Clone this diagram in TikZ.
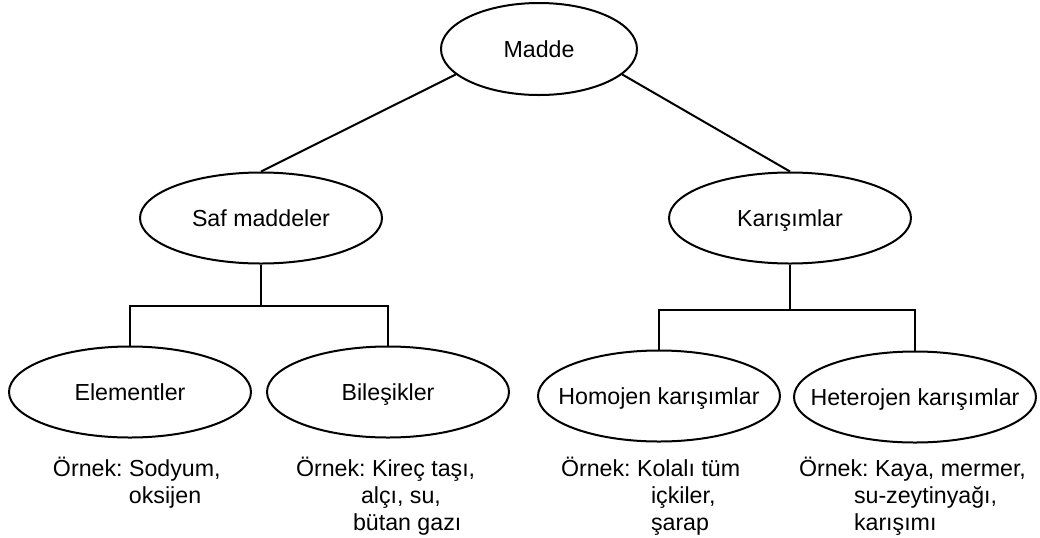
\documentclass[tikz,border=0pt]{standalone}
\usepackage{fontspec}
\setmainfont{Liberation Sans}
\usetikzlibrary{shapes.geometric}
\frenchspacing

\begin{document}
\begin{tikzpicture}[x=0.5pt, y=-0.5pt, line width=1pt,
  font=\fontsize{11.6}{13.5}\selectfont,
  oval/.style={draw, ellipse, inner ysep=0pt, inner xsep=-10pt,
    text height=10.3pt, text depth=2pt,
    minimum width=121pt, minimum height=45.5pt},
  note/.style={anchor=base west, align=left, inner sep=0pt}]
  \useasboundingbox (0,0) rectangle (1040,537);
  \node[oval, minimum width=98pt, minimum height=46pt] (madde) at (539,49) {Madde};
  \node[oval] (saf) at (261,218) {Saf maddeler};
  \node[oval] (karisim) at (790,218) {Karışımlar};
  \node[oval] (element) at (130,392) {Elementler};
  \node[oval] (bilesik) at (388,392) {Bileşikler};
  \node[oval] (homojen) at (659,396) {Homojen karışımlar};
  \node[oval] (heterojen) at (915,397) {Heterojen karışımlar};
  \draw (madde.197) -- (saf.north);
  \draw (madde.-17) -- (karisim.north);
  \draw (saf.south) -- ++(0,41) coordinate (safj);
  \draw (safj) -| (element.north);
  \draw (safj) -| (bilesik.north);
  \draw (karisim.south) -- ++(0,45) coordinate (karj);
  \draw (karj) -| (homojen.north);
  \draw (karj) -| (heterojen.north);
  % base is the last line here
  \node[note] (elementnot) at (52,503) {Örnek: Sodyum,\\\hspace*{38pt}oksijen};
  \node[note] (bilesiknot) at (295,530) {Örnek: Kireç taşı,\\\hspace*{32.5pt}alçı, su,\\\hspace*{28.5pt}bütan gazı};
  \node[note] (homojennot) at (560,530) {Örnek: Kolalı tüm\\\hspace*{45pt}içkiler,\\\hspace*{45pt}şarap};
  \node[note] (heterojennot) at (798,530) {Örnek: Kaya, mermer,\\\hspace*{27.5pt}su-zeytinyağı,\\\hspace*{27.5pt}karışımı};
\end{tikzpicture}
\end{document}
